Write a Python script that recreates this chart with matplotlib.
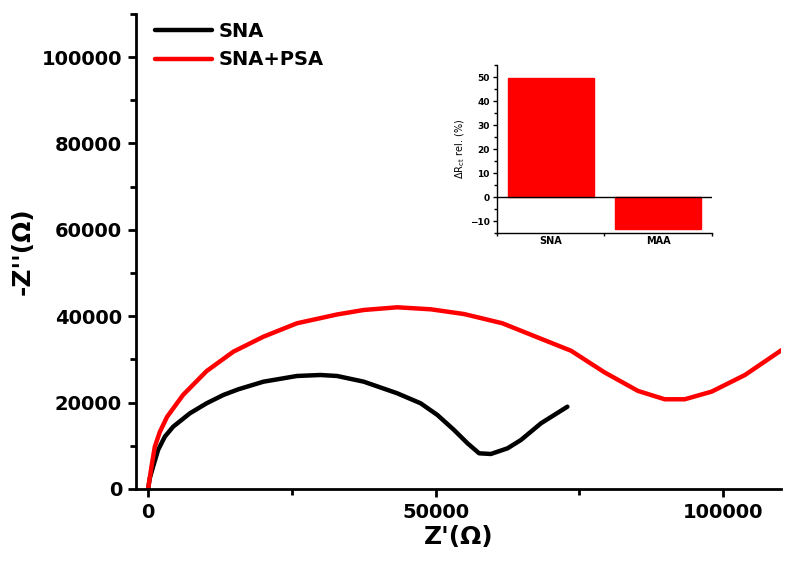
import numpy as np
import matplotlib
matplotlib.use('Agg')
import matplotlib.pyplot as plt
from matplotlib.ticker import MultipleLocator

plt.rcParams['font.family'] = ['DejaVu Sans']
plt.rcParams['font.weight'] = 'bold'

# Nyquist data (Z' , -Z'')
sna_x = [0, 300, 870, 1740, 2910, 4360, 7270, 10180, 13080, 15700, 20060, 25880,
         29950, 32860, 37500, 43320, 47380, 50300, 53190, 55530, 57550, 59590,
         62500, 64820, 68310, 72900]
sna_y = [0, 2500, 5160, 9030, 12110, 14420, 17520, 19840, 21760, 23080, 24840, 26160,
         26390, 26160, 24840, 22150, 19840, 17130, 13660, 10580, 8260, 8100,
         9420, 11340, 15210, 19050]

psa_x = [0, 590, 1170, 2040, 3300, 6100, 10180, 14820, 20060, 25880, 32860, 37500,
         43320, 49130, 54940, 61600, 67400, 73540, 79350, 85170, 89820, 93300,
         97960, 103770, 110170]
psa_y = [0, 5160, 9790, 13200, 16700, 21800, 27300, 31780, 35260, 38360, 40400, 41440,
         42060, 41600, 40500, 38360, 35260, 32000, 27000, 22700, 20770, 20770,
         22530, 26390, 32180]

# inset bars
bar_labels = ['SNA', 'MAA']
bar_values = [49.7, -13.5]

fig = plt.figure(figsize=(8, 5.67), dpi=100)
ax = fig.add_axes([0.17, 0.1376, 0.806, 0.838])

ax.plot(sna_x, sna_y, color='black', lw=3.2, label='SNA', solid_capstyle='round',
        solid_joinstyle='round')
ax.plot(psa_x, psa_y, color='red', lw=3.2, label='SNA+PSA', solid_capstyle='round',
        solid_joinstyle='round')

ax.set_xlim(-2100, 110000)
ax.set_ylim(0, 110000)
ax.xaxis.set_major_locator(MultipleLocator(50000))
ax.xaxis.set_minor_locator(MultipleLocator(25000))
ax.yaxis.set_major_locator(MultipleLocator(20000))
ax.yaxis.set_minor_locator(MultipleLocator(10000))
for s in ['top', 'right']:
    ax.spines[s].set_visible(False)
for s in ['left', 'bottom']:
    ax.spines[s].set_linewidth(2)
ax.tick_params(which='major', direction='out', length=6, width=2, labelsize=14, pad=4)
ax.tick_params(which='minor', direction='out', length=4, width=2)
ax.set_xlabel("Z'(Ω)", fontsize=18, fontweight='bold', labelpad=2)
ax.set_ylabel("-Z''(Ω)", fontsize=18, fontweight='bold', labelpad=5)

ax.legend(loc='upper left', bbox_to_anchor=(0.008, 1.012), frameon=False, fontsize=14,
          handlelength=2.95, handletextpad=0.35, labelspacing=0.5, borderaxespad=0.3)

# inset
ins = fig.add_axes([0.621, 0.589, 0.269, 0.296])
ins.bar(range(len(bar_labels)), bar_values, width=0.8, color='red', edgecolor='red')
ins.axhline(0, color='black', lw=1)
ins.set_xlim(-0.5, 1.5)
ins.set_ylim(-15, 55)
ins.set_xticks(range(len(bar_labels)))
ins.set_xticklabels(bar_labels)
ins.xaxis.set_minor_locator(MultipleLocator(0.5))
ins.yaxis.set_major_locator(MultipleLocator(10))
ins.yaxis.set_minor_locator(MultipleLocator(5))
for s in ['top', 'right']:
    ins.spines[s].set_visible(False)
for s in ['left', 'bottom']:
    ins.spines[s].set_linewidth(1)
ins.tick_params(which='major', direction='out', length=3, width=1, labelsize=6.5, pad=2)
ins.tick_params(axis='x', which='major', length=0, labelsize=7)
ins.tick_params(which='minor', direction='out', length=2, width=1)
ins.set_ylabel(r'ΔR$_{\mathregular{ct}}$ rel. (%)', fontsize=7, fontweight='normal', labelpad=2)

fig.savefig('out.png', dpi=100)
